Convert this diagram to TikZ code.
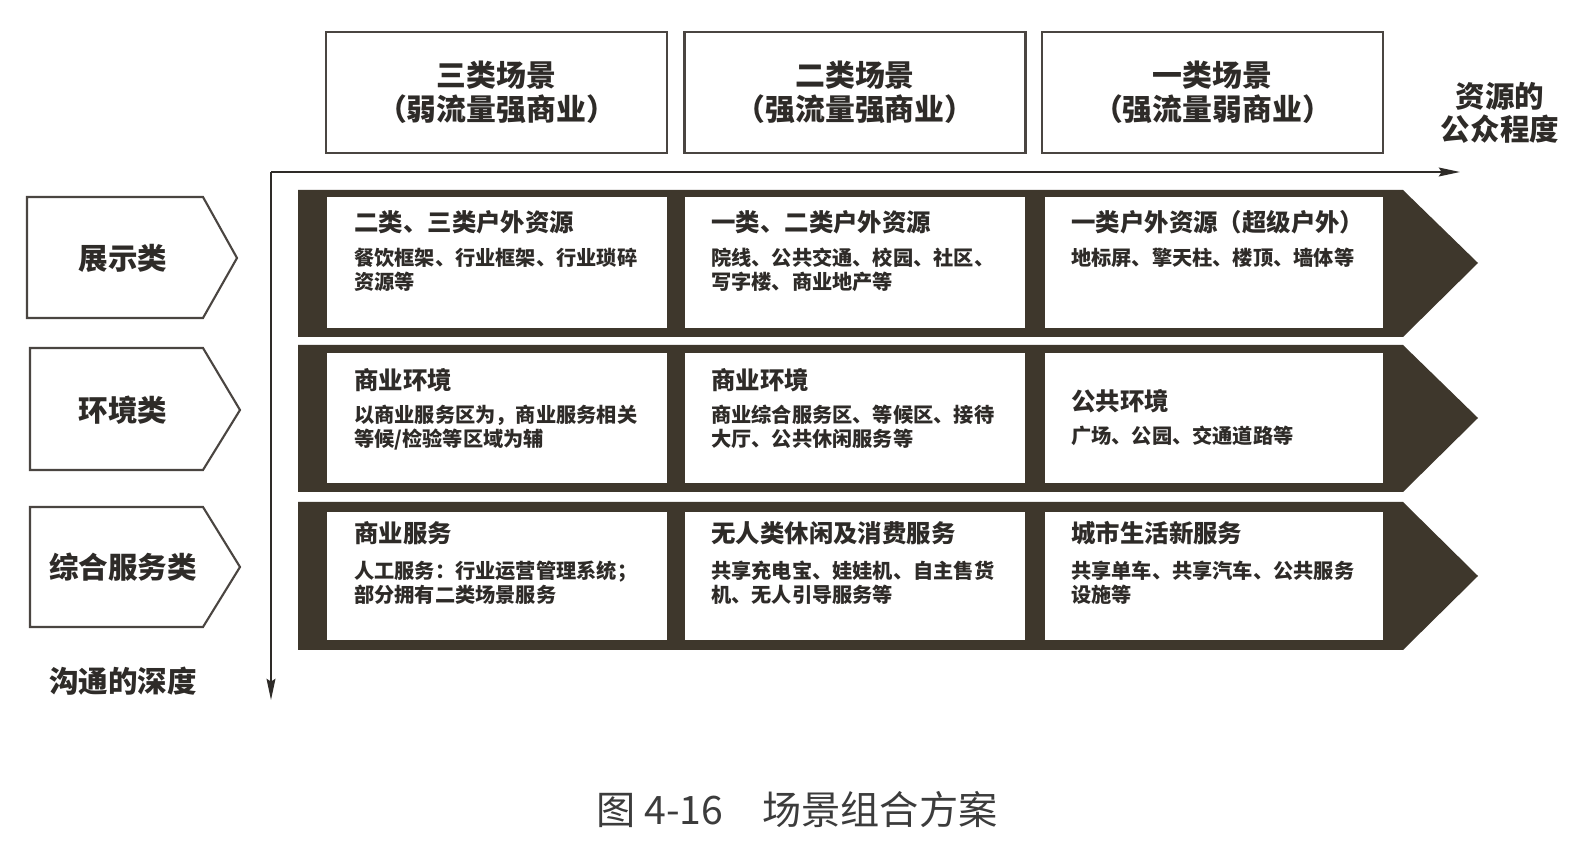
\documentclass[tikz,border=0pt]{standalone}
\usepackage{fontspec}
\setmainfont{Noto Sans CJK SC}
\usetikzlibrary{arrows.meta}
\definecolor{band}{HTML}{3E372C}
\definecolor{ink}{HTML}{2E2B28}
\definecolor{edge}{HTML}{4A4541}
\definecolor{capc}{HTML}{3C3C3C}
\tikzset{
  hdrbox/.style={draw=edge, line width=1.3pt, fill=white, minimum width=6.82cm, minimum height=2.42cm,
    align=center, inner sep=0pt, text=ink, font=\fontsize{17}{19.3}\selectfont\bfseries},
  cellbox/.style={fill=white, draw=none, inner sep=0pt, minimum width=6.8cm},
  ttl/.style={anchor=west, inner sep=0pt, text=ink, font=\fontsize{13.9}{16}\selectfont\bfseries},
  bodytext/.style={anchor=north west, inner sep=0pt, align=left, text=ink, font=\fontsize{11.5}{13.3}\selectfont\bfseries},
  bandfill/.style={fill=band},
  pent/.style={draw=edge, line width=1.2pt, fill=white, line join=miter},
  pentlabel/.style={inner sep=0pt, text=ink, font=\fontsize{16.8}{19}\selectfont\bfseries},
  axisline/.style={draw=ink, line width=1.1pt, -{Stealth[length=12pt,width=5pt,inset=1.5pt]}},
  axislabel/.style={inner sep=0pt, align=center, text=ink, font=\fontsize{16.8}{18.7}\selectfont\bfseries},
}
\begin{document}
\begin{tikzpicture}[x=0.02cm,y=-0.02cm]
\useasboundingbox[fill=white] (0,0) rectangle (1587,854);

% header boxes
\node[hdrbox] (h1) at (496.5,92.5) {三类场景\\（弱流量强商业）};
\node[hdrbox] (h2) at (855,92.5) {二类场景\\（强流量强商业）};
\node[hdrbox] (h3) at (1212.5,92.5) {一类场景\\（强流量弱商业）};

% axes
\coordinate (O) at (271,172);
\coordinate (xend) at (1460,172);
\coordinate (yend) at (271,700);
\draw[axisline] (O) -- (xend);
\draw[axisline] (O) -- (yend);
\node[axislabel] (xlab) at (1500,113) {资源的\\公众程度};
\node[axislabel] (ylab) at (123,681) {沟通的深度};

% left pentagons
\draw[pent] (27,197) -- (203,197) -- (237,258) -- (203,318) -- (27,318) -- cycle;
\node[pentlabel] (p1) at (123,258) {展示类};
\draw[pent] (30,348) -- (203,348) -- (240,410) -- (203,470) -- (30,470) -- cycle;
\node[pentlabel] (p2) at (123,410) {环境类};
\draw[pent] (30,507) -- (203,507) -- (240,567) -- (203,627) -- (30,627) -- cycle;
\node[pentlabel] (p3) at (123,567) {综合服务类};

% dark bands
\fill[bandfill] (298,190) -- (1403,190) -- (1478,263) -- (1403,337) -- (298,337) -- cycle;
\fill[bandfill] (298,345) -- (1403,345) -- (1478,418) -- (1403,492) -- (298,492) -- cycle;
\fill[bandfill] (298,502) -- (1403,502) -- (1478,576) -- (1403,650) -- (298,650) -- cycle;

% cells row 1
\node[cellbox, minimum height=2.62cm] (c11) at (497,262.5) {};
\node[cellbox, minimum height=2.62cm] (c12) at (855,262.5) {};
\node[cellbox, minimum height=2.62cm, minimum width=6.76cm] (c13) at (1214,262.5) {};
% cells row 2
\node[cellbox, minimum height=2.6cm] (c21) at (497,418) {};
\node[cellbox, minimum height=2.6cm] (c22) at (855,418) {};
\node[cellbox, minimum height=2.6cm, minimum width=6.76cm] (c23) at (1214,418) {};
% cells row 3
\node[cellbox, minimum height=2.56cm] (c31) at (497,576) {};
\node[cellbox, minimum height=2.56cm] (c32) at (855,576) {};
\node[cellbox, minimum height=2.56cm, minimum width=6.76cm] (c33) at (1214,576) {};

% texts row 1
\node[ttl] (t11) at (354,222) {二类、三类户外资源};
\node[bodytext] (b11) at (354,248) {餐饮框架、行业框架、行业琐碎\\资源等};
\node[ttl] (t12) at (711,222) {一类、二类户外资源};
\node[bodytext] (b12) at (711,248) {院线、公共交通、校园、社区、\\写字楼、商业地产等};
\node[ttl] (t13) at (1071,222) {一类户外资源（超级户外）};
\node[bodytext] (b13) at (1071,248) {地标屏、擎天柱、楼顶、墙体等};

% texts row 2
\node[ttl] (t21) at (354,380) {商业环境};
\node[bodytext] (b21) at (354,405) {以商业服务区为，商业服务相关\\等候/检验等区域为辅};
\node[ttl] (t22) at (711,380) {商业环境};
\node[bodytext] (b22) at (711,405) {商业综合服务区、等候区、接待\\大厅、公共休闲服务等};
\node[ttl] (t23) at (1071,401) {公共环境};
\node[bodytext] (b23) at (1071,426) {广场、公园、交通道路等};

% texts row 3
\node[ttl] (t31) at (354,533) {商业服务};
\node[bodytext] (b31) at (354,561) {人工服务：行业运营管理系统；\\部分拥有二类场景服务};
\node[ttl] (t32) at (711,533) {无人类休闲及消费服务};
\node[bodytext] (b32) at (711,561) {共享充电宝、娃娃机、自主售货\\机、无人引导服务等};
\node[ttl] (t33) at (1071,533) {城市生活新服务};
\node[bodytext] (b33) at (1071,561) {共享单车、共享汽车、公共服务\\设施等};

% caption
\node[inner sep=0pt, text=capc, font=\fontsize{22.3}{24}\selectfont] (cap) at (797,810) {图 4-16　场景组合方案};
\end{tikzpicture}
\end{document}
